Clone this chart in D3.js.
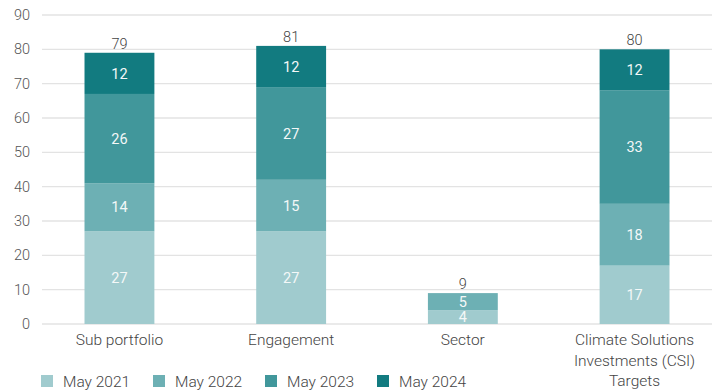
<!DOCTYPE html>
<html>
<head>
<meta charset="utf-8">
<script src="https://cdn.jsdelivr.net/npm/d3@7"></script>
<style>
  body { margin: 0; background: #fff; font-family: Roboto, "Noto Sans", sans-serif; }
</style>
</head>
<body>
<div id="chart"></div>
<script>
// data
const categories = ["Sub portfolio", "Engagement", "Sector", "Climate Solutions Investments (CSI) Targets"];
const catLines = [["Sub portfolio"], ["Engagement"], ["Sector"], ["Climate Solutions", "Investments (CSI)", "Targets"]];
const seriesNames = ["May 2021", "May 2022", "May 2023", "May 2024"];
const may2021 = [27, 27, 4, 17];
const may2022 = [14, 15, 5, 18];
const may2023 = [26, 27, 0, 33];
const may2024 = [12, 12, 0, 12];
const totals = [79, 81, 9, 80];
const yTicks = [0, 10, 20, 30, 40, 50, 60, 70, 80, 90];
const colors = ["#a0cbce", "#6db0b4", "#41979b", "#127b80"];

const width = 712, height = 390;
const margin = {top: 15, right: 0, bottom: 66, left: 42};

const svg = d3.select("#chart").append("svg")
  .attr("width", width)
  .attr("height", height);

const rows = categories.map((c, i) => ({
  cat: c,
  "May 2021": may2021[i], "May 2022": may2022[i],
  "May 2023": may2023[i], "May 2024": may2024[i]
}));
const stack = d3.stack().keys(seriesNames)(rows);

const y = d3.scaleLinear().domain([0, 90]).range([height - margin.bottom, margin.top]);
const x = d3.scaleBand().domain(categories).range([33, 721]).paddingInner(0.593).paddingOuter(0.3);

// gridlines
svg.selectAll("line.grid")
  .data(yTicks)
  .enter().append("line")
  .attr("class", "grid")
  .attr("x1", margin.left).attr("x2", width)
  .attr("y1", d => y(d)).attr("y2", d => y(d))
  .style("stroke", "#e3e3e3")
  .style("stroke-width", 1.3);

// y axis labels
const yAxis = d3.axisLeft(y).tickValues(yTicks).tickSize(0).tickPadding(0);
svg.append("g")
  .attr("transform", "translate(30,0)")
  .call(yAxis)
  .call(g => g.select(".domain").remove())
  .selectAll("text")
  .style("font-family", "Roboto, sans-serif")
  .style("font-size", "14.5px")
  .style("font-weight", 300)
  .style("fill", "#555");

// bars
const layer = svg.selectAll(".layer")
  .data(stack)
  .enter().append("g")
  .attr("class", "layer")
  .style("fill", (d, i) => colors[i]);

layer.selectAll("rect")
  .data(d => d.filter(s => s[1] - s[0] > 0))
  .enter().append("rect")
  .attr("x", d => x(d.data.cat))
  .attr("width", x.bandwidth())
  .attr("y", d => y(d[1]))
  .attr("height", d => y(d[0]) - y(d[1]));

// segment labels
layer.selectAll("text")
  .data(d => d.filter(s => s[1] - s[0] > 0).map(s => ({s: s, key: d.key})))
  .enter().append("text")
  .attr("x", d => x(d.s.data.cat) + x.bandwidth() / 2)
  .attr("y", d => (y(d.s[0]) + y(d.s[1])) / 2)
  .attr("dy", "0.36em")
  .attr("text-anchor", "middle")
  .style("font-size", "14.5px")
  .style("fill", "#f4f8f8")
  .text(d => d.s.data[d.key]);

// totals
svg.selectAll(".total")
  .data(categories)
  .enter().append("text")
  .attr("class", "total")
  .attr("x", d => x(d) + x.bandwidth() / 2)
  .attr("y", (d, i) => y(totals[i]) - 4)
  .attr("text-anchor", "middle")
  .style("font-size", "14.5px")
  .style("font-weight", 300)
  .style("fill", "#444")
  .text((d, i) => totals[i]);

// category labels
const catG = svg.selectAll(".cat")
  .data(categories)
  .enter().append("text")
  .attr("class", "cat")
  .attr("text-anchor", "middle")
  .style("font-size", "15.5px")
  .style("font-weight", 300)
  .style("fill", "#444");
catG.each(function(d, i) {
  const t = d3.select(this);
  catLines[i].forEach((line, j) => {
    t.append("tspan")
      .attr("x", x(d) + x.bandwidth() / 2)
      .attr("y", 345 + j * 20.5)
      .text(line);
  });
});

// legend
const legend = svg.selectAll(".legend")
  .data(seriesNames)
  .enter().append("g")
  .attr("class", "legend")
  .attr("transform", (d, i) => "translate(" + (41 + i * 112) + ",375)");
legend.append("rect")
  .attr("width", 12).attr("height", 12)
  .style("fill", (d, i) => colors[i]);
legend.append("text")
  .attr("x", 22).attr("y", 12)
  .style("font-size", "15.5px")
  .style("font-weight", 300)
  .style("fill", "#444")
  .text(d => d);
</script>
</body>
</html>
